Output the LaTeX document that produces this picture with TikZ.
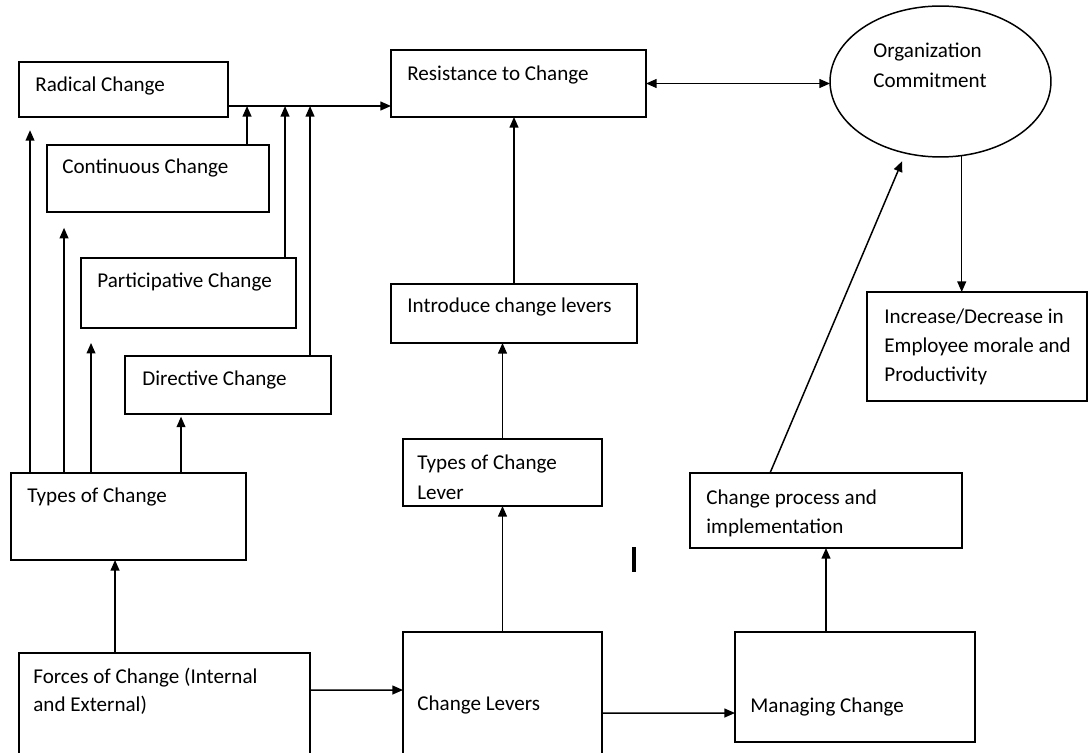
\documentclass[tikz,border=0pt]{standalone}
\usepackage{fontspec}
\setmainfont{Carlito}
\usetikzlibrary{arrows.meta, shapes.geometric}

\begin{document}
\begin{tikzpicture}[x=0.02cm, y=-0.02cm,
  box/.style={draw, rectangle, inner sep=0pt, outer sep=0pt, line width=0.85pt},
  txt/.style={anchor=north west, align=left, inner sep=0pt, font=\fontsize{12}{16.6}\selectfont},
  arr/.style={->, >={Triangle[length=6pt,width=5pt]}, line width=0.85pt}]
	\useasboundingbox (0,0) rectangle (1089,753);
	\clip (0,0) rectangle (1089,753);
	\node[box, minimum width=4.18cm, minimum height=1.10cm] (radical) at (123.5,89.5) {};
	\node[txt] (radicalT) at ([shift={(16,15)}]radical.north west) {Radical Change};
	\node[box, minimum width=4.44cm, minimum height=1.34cm] (continuous) at (158,178.5) {};
	\node[txt] (continuousT) at ([shift={(15,14)}]continuous.north west) {Continuous Change};
	\node[box, minimum width=4.30cm, minimum height=1.40cm] (participative) at (188.5,293) {};
	\node[txt] (participativeT) at ([shift={(16,15)}]participative.north west) {Participative Change};
	\node[box, minimum width=4.12cm, minimum height=1.16cm] (directive) at (228,385) {};
	\node[txt] (directiveT) at ([shift={(17,15)}]directive.north west) {Directive Change};
	\node[box, minimum width=4.70cm, minimum height=1.74cm] (types) at (128.5,516.5) {};
	\node[txt] (typesT) at ([shift={(16,14)}]types.north west) {Types of Change};
	\node[box, minimum width=5.82cm, minimum height=2.34cm] (forces) at (164.5,711.5) {};
	\node[txt, font=\fontsize{12}{15.5}\selectfont] (forcesT) at ([shift={(14,15)}]forces.north west) {Forces of Change (Internal\\and External)};
	\node[box, minimum width=3.98cm, minimum height=2.76cm] (levers) at (502.5,701) {};
	\node[txt] (leversT) at ([shift={(14,63)}]levers.north west) {Change Levers};
	\node[box, minimum width=4.80cm, minimum height=2.20cm] (managing) at (855,687) {};
	\node[txt] (managingT) at ([shift={(15,65)}]managing.north west) {Managing Change};
	\node[box, minimum width=3.98cm, minimum height=1.34cm] (leverTypes) at (502.5,472.5) {};
	\node[txt] (leverTypesT) at ([shift={(14,16)}]leverTypes.north west) {Types of Change\\Lever};
	\node[box, minimum width=4.92cm, minimum height=1.18cm] (introduce) at (514,313.5) {};
	\node[txt] (introduceT) at ([shift={(16,14)}]introduce.north west) {Introduce change levers};
	\node[box, minimum width=5.10cm, minimum height=1.34cm] (resistance) at (518.5,83.5) {};
	\node[txt] (resistanceT) at ([shift={(16,16)}]resistance.north west) {Resistance to Change};
	\node[draw, ellipse, inner sep=0pt, outer sep=0pt, line width=0.85pt, minimum width=4.42cm, minimum height=3.02cm] (commit) at (940.5,81.5) {};
	\node[txt] (commitT) at ([shift={(-67.5,-38.5)}]commit.center) {Organization\\Commitment};
	\node[box, minimum width=4.40cm, minimum height=2.18cm] (increase) at (977,346.5) {};
	\node[txt] (increaseT) at ([shift={(17,16)}]increase.north west) {Increase/Decrease in\\Employee morale and\\Productivity};
	\node[box, minimum width=5.44cm, minimum height=1.50cm] (process) at (826,510.5) {};
	\node[txt] (processT) at ([shift={(16,16)}]process.north west) {Change process and\\implementation};

	\coordinate (bus) at ([shift={(0,44)}]radical.north east);
	\coordinate (contTop) at ([shift={(200,0)}]continuous.north west);
	\coordinate (partTop) at ([shift={(204,0)}]participative.north west);
	\coordinate (dirTop) at ([shift={(185,0)}]directive.north west);
	\coordinate (t1) at ([shift={(19,0)}]types.north west);
	\coordinate (t2) at ([shift={(53,0)}]types.north west);
	\coordinate (t3) at ([shift={(80,0)}]types.north west);
	\coordinate (t4) at ([shift={(170,0)}]types.north west);
	\coordinate (forcesTop) at ([shift={(96,0)}]forces.north west);
	\coordinate (procTop) at ([shift={(80,0)}]process.north west);

	\draw[arr] (bus) -- (bus -| resistance.west);
	\draw[arr] (contTop) -- (contTop |- bus);
	\draw[arr] (partTop) -- (partTop |- bus);
	\draw[arr] (dirTop) -- (dirTop |- bus);
	\draw[arr, shorten >=7.5pt] (t1) -- (t1 |- radical.south);
	\draw[arr, shorten >=9pt] (t2) -- (t2 |- continuous.south);
	\draw[arr, shorten >=8.5pt] (t3) -- (t3 |- participative.south);
	\draw[arr, shorten >=1.5pt] (t4) -- (t4 |- directive.south);
	\draw[arr] (forcesTop) -- (forcesTop |- types.south);
	\draw[arr] ([shift={(0,37)}]forces.north east) -- ([shift={(0,58)}]levers.north west);
	\draw[arr] ([shift={(0,81)}]levers.north east) -- ([shift={(0,81)}]managing.north west);
	\draw[arr] (levers.north) -- (leverTypes.south);
	\draw[arr] (leverTypes.north) -- (leverTypes.north |- introduce.south);
	\draw[arr] (introduce.north) -- (introduce.north |- resistance.south);
	\draw[arr, <->] (resistance.east) -- (resistance.east -| commit.west);
	\draw[arr] (commit.-74) -- (commit.-74 |- increase.north);
	\draw[arr, shorten >=5pt] (procTop) -- (commit.-116);
	\draw[arr] (process.south |- managing.north) -- (process.south);
	\draw[line width=1.8pt] (634,547) -- (634,572);
\end{tikzpicture}
\end{document}
